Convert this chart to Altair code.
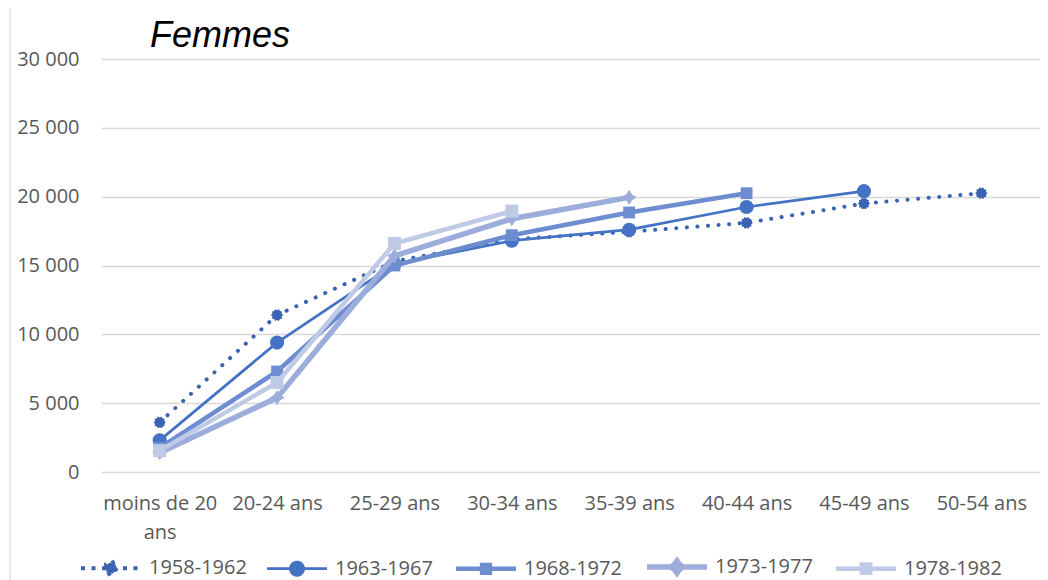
import math
import altair as alt
import pandas as pd

# ---------------- data ----------------
categories = ["moins de 20 ans", "20-24 ans", "25-29 ans", "30-34 ans",
              "35-39 ans", "40-44 ans", "45-49 ans", "50-54 ans"]
series_names = ["1958-1962", "1963-1967", "1968-1972", "1973-1977", "1978-1982"]
v_1958 = [3600, 11400, 15300, 16900, 17450, 18100, 19500, 20250]
v_1963 = [2300, 9400, 15100, 16800, 17600, 19250, 20400]
v_1968 = [1750, 7300, 15000, 17200, 18850, 20250]
v_1973 = [1400, 5400, 15700, 18400, 19950]
v_1978 = [1550, 6500, 16600, 18950]
y_ticks = [0, 5000, 10000, 15000, 20000, 25000, 30000]
title_text = "Femmes"

all_values = [v_1958, v_1963, v_1968, v_1973, v_1978]
rows = []
for s, vals in zip(series_names, all_values):
    for c, v in zip(categories, vals):
        rows.append({"serie": s, "age": c, "valeur": v})
df = pd.DataFrame(rows)

# ---------------- styles ----------------
FONT = "Open Sans"
LABEL_COLOR = "#595959"
GRID = "#D9D9D9"
colors = ["#3A63B2", "#4472C4", "#6E8DD0", "#9DADDB", "#BFCAE6"]
widths = [4, 2.75, 4.5, 5.5, 4.5]
dashes = [[0.1, 10.5], None, None, None, None]


def star_path(n, r_out, r_in):
    pts = []
    for i in range(2 * n):
        a = math.pi * i / n
        r = r_out if i % 2 == 0 else r_in
        pts.append(f"{r*math.cos(a):.3f},{r*math.sin(a):.3f}")
    return "M" + "L".join(pts) + "Z"


gear = star_path(10, 1.0, 0.8)
notched = star_path(4, 1.0, 0.55)
point_shapes = [gear, "circle", "square", notched, "square"]
point_sizes = [150, 200, 140, 230, 170]


def circle_p(r):
    return f"M{-r},0A{r},{r} 0 1,0 {r},0A{r},{r} 0 1,0 {-r},0Z"


def square_p(a):
    return f"M{-a},{-a}L{a},{-a}L{a},{a}L{-a},{a}Z"


LINE = "M-1,0L1,0"
legend_paths = [
    LINE + star_path(10, 0.2, 0.16),
    LINE + circle_p(0.22),
    LINE + square_p(0.13),
    LINE + star_path(4, 0.2, 0.12),
    LINE + square_p(0.14),
]
legend_dashes = [[4, 6.5], [1, 0], [1, 0], [1, 0], [1, 0]]

legend = alt.Legend(
    title=None,
    orient="none",
    legendX=-23,
    legendY=475,
    direction="horizontal",
    columns=5,
    symbolSize=3600,
    labelFont=FONT,
    labelFontSize=20,
    labelColor=LABEL_COLOR,
    labelOffset=5,
    columnPadding=14,
    symbolOpacity=1,
)

x_enc = alt.X(
    "age:N",
    sort=categories,
    scale=alt.Scale(type="point", padding=0.5, domain=categories),
    axis=alt.Axis(
        title=None, domain=False, ticks=False, labelAngle=0, labelPadding=21,
        labelFont=FONT, labelFontSize=20, labelColor=LABEL_COLOR,
        labelOverlap=False, labelBaseline="top", labelLineHeight=29,
        labelExpr="datum.value == 'moins de 20 ans' ? ['moins de 20', 'ans'] : datum.label",
    ),
)
y_enc = alt.Y(
    "valeur:Q",
    scale=alt.Scale(domain=[0, 30000], nice=False),
    axis=alt.Axis(
        title=None, values=y_ticks, domain=False, ticks=False, grid=True,
        gridColor=GRID, gridWidth=1.3, labelPadding=22,
        labelFont=FONT, labelFontSize=20, labelColor=LABEL_COLOR,
        labelExpr="replace(format(datum.value, ','), ',', ' ')",
    ),
)

layers = []
one = pd.DataFrame({"t": [title_text]})
border = alt.Chart(one).mark_rule(color=GRID, strokeWidth=1.2).encode(
    x=alt.value(-91), y=alt.value(-51), y2=alt.value(530)
)
title = alt.Chart(one).mark_text(
    font="Liberation Sans", fontSize=36, fontStyle="italic", color="#000000",
    align="left", baseline="alphabetic",
).encode(text="t:N", x=alt.value(49), y=alt.value(-12))
layers += [border, title]

for i, s in enumerate(series_names):
    base = alt.Chart(df).transform_filter(alt.datum.serie == s)
    line_kwargs = dict(strokeWidth=widths[i], strokeCap="round", strokeJoin="round", color=colors[i])
    if dashes[i]:
        line_kwargs["strokeDash"] = dashes[i]
    line = base.mark_line(**line_kwargs).encode(x=x_enc, y=y_enc)
    pts = base.mark_point(shape=point_shapes[i], size=point_sizes[i], filled=True,
                          opacity=1, strokeWidth=0, color=colors[i]).encode(x=x_enc, y=y_enc)
    layers += [line, pts]

# legend-only layer (no visible marks: all rows filtered out)
legend_layer = alt.Chart(df).transform_filter("false").mark_point(filled=False, opacity=1).encode(
    x=x_enc,
    y=y_enc,
    color=alt.Color("serie:N", scale=alt.Scale(domain=series_names, range=colors), legend=legend),
    fill=alt.Fill("serie:N", scale=alt.Scale(domain=series_names, range=colors), legend=legend),
    shape=alt.Shape("serie:N", scale=alt.Scale(domain=series_names, range=legend_paths), legend=legend),
    strokeDash=alt.StrokeDash("serie:N", scale=alt.Scale(domain=series_names, range=legend_dashes), legend=legend),
    strokeWidth=alt.StrokeWidth("serie:N", scale=alt.Scale(type="ordinal", domain=series_names, range=widths), legend=legend),
)
layers.append(legend_layer)

chart = alt.layer(*layers).properties(
    width=939,
    height=413,
    padding={"left": 93, "top": 51, "right": 0, "bottom": 108},
    autosize=alt.AutoSizeParams(type="none"),
).configure(background="white").configure_view(stroke=None)

chart.save("out.html", embed_options={"renderer": "svg", "actions": False})
